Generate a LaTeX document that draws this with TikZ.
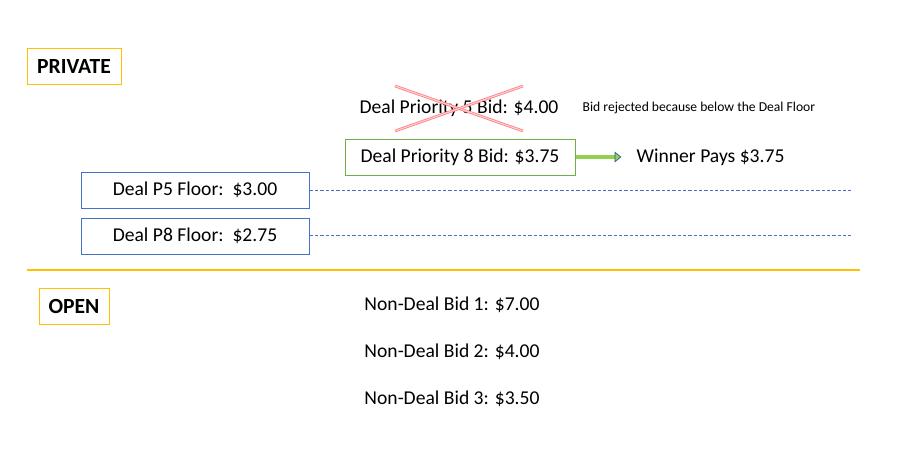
\documentclass[tikz,border=0pt]{standalone}
\usepackage{fontspec}
\setmainfont{Carlito}
\usetikzlibrary{arrows.meta,positioning}
\definecolor{gold}{HTML}{FFC000}
\definecolor{dealblue}{HTML}{4472C4}
\definecolor{dealgreen}{HTML}{70AD47}
\definecolor{arrowgreen}{HTML}{92D050}
\definecolor{arrowblue}{HTML}{2F5597}
\definecolor{crossred}{HTML}{FF7C80}

\begin{document}
\begin{tikzpicture}[x=0.75pt,y=-0.75pt,font=\fontsize{14.7}{17}\selectfont,
                    sectbox/.style={draw=gold,line width=0.75pt,font=\fontsize{16.2}{19}\selectfont\bfseries,
                                    minimum height=27pt},
                    floorbox/.style={draw=dealblue,line width=0.75pt,minimum width=171pt,minimum height=27pt},
                    floorline/.style={draw=dealblue,line width=0.6pt,dash pattern=on 2.5pt off 1.5pt},
                    crossline/.style={draw=crossred,line width=0.6pt,double=crossred!35,double distance=0.8pt}]
  \useasboundingbox (0,0) rectangle (905,468);

  % private deals
  \node[sectbox,minimum width=70.5pt] (private) at (74,66) {PRIVATE};
  \node (bid5) at (459,108) {Deal Priority 5 Bid: \$4.00};
  \node[anchor=west,font=\fontsize{10.2}{12}\selectfont] (reject) at (578,108) {Bid rejected because below the Deal Floor};
  \node[draw=dealgreen,line width=0.75pt,minimum width=172.5pt,minimum height=27pt] (bid8) at (460,157) {Deal Priority 8 Bid: \$3.75};
  \node[anchor=west] (win) at (632,157) {Winner Pays \$3.75};

  \draw[crossline] (395,86) -- (523,131);
  \draw[crossline] (395,131) -- (523,86);

  \draw[draw=arrowblue,line width=0.5pt,double=arrowgreen,double distance=2.5pt,shorten >=8pt,
        -{Triangle[length=5pt,width=8pt,fill=arrowgreen]}] (bid8) -- (win);

  % floors
  \node[floorbox] (p5) at (195,190) {Deal P5 Floor:\ \ \$3.00};
  \node[floorbox] (p8) at (195,236) {Deal P8 Floor:\ \ \$2.75};
  \coordinate (p5end) at (851,190);
  \coordinate (p8end) at (851,235);
  \draw[floorline] (p5) -- (p5end);
  \draw[floorline] (p8.east |- p8end) -- (p8end);

  % separator
  \coordinate (sepleft) at (27,270);
  \coordinate (sepright) at (860,270);
  \draw[draw=gold,line width=1.5pt] (sepleft) -- (sepright);

  % open auction
  \node[sectbox,minimum width=52.5pt] (open) at (74,306) {OPEN};
  \foreach \n/\bid/\y in {1/7.00/305,2/4.00/352,3/3.50/399}
    \node (nd\n) at (452,\y) {Non-Deal Bid \n: \$\bid};
\end{tikzpicture}
\end{document}
